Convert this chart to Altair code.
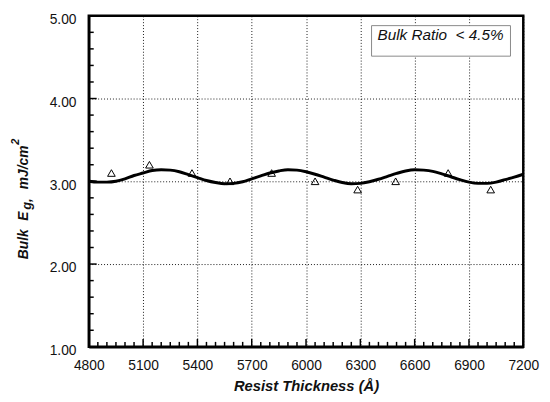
import altair as alt
import pandas as pd

# ---- data ----
curve_thickness = list(range(4800, 7201, 50))
curve_eg = [3.00, 2.99, 2.99, 3.00, 3.03, 3.07, 3.10, 3.13, 3.14, 3.135,
            3.115, 3.08, 3.045, 3.01, 2.985, 2.97, 2.975, 2.995, 3.03, 3.065,
            3.10, 3.125, 3.14, 3.135, 3.115, 3.085, 3.05, 3.015, 2.985, 2.97,
            2.975, 2.995, 3.025, 3.06, 3.095, 3.125, 3.14, 3.135, 3.12, 3.09,
            3.055, 3.02, 2.99, 2.975, 2.975, 2.99, 3.02, 3.05, 3.085]
pt_thickness = [4925, 5135, 5370, 5580, 5810, 6050, 6285, 6495, 6785, 7020]
pt_eg = [3.10, 3.20, 3.10, 3.00, 3.10, 3.00, 2.90, 3.00, 3.10, 2.90]
x_major = [4800, 5100, 5400, 5700, 6000, 6300, 6600, 6900, 7200]
y_major = [1.0, 2.0, 3.0, 4.0, 5.0]
NB = "\u00a0"
legend_label = ["Bulk Ratio" + NB + NB + "< 4.5%"]
x_title = "Resist" + NB + "Thickness" + NB + "(Å)"

assert len(curve_thickness) == len(curve_eg)

W, H = 441, 336
FONT = "Liberation Sans"

curve_df = pd.DataFrame({"t": curve_thickness, "eg": curve_eg})
pts_df = pd.DataFrame({"t": pt_thickness, "eg": pt_eg})

xs = alt.Scale(domain=[4800, 7200], nice=False, zero=False)
ys = alt.Scale(domain=[1, 5], nice=False, zero=False)

x_axis = alt.Axis(values=x_major, format="d", grid=True, gridColor="black",
                  gridDash=[1, 2], gridWidth=1, gridOpacity=0.9, ticks=False,
                  labelPadding=12, labelFontSize=14, labelFont=FONT,
                  labelColor="#111", labelFlush=False, labelOverlap=False,
                  domainColor="black", domainWidth=2.5,
                  title=x_title, titleFont=FONT, titleFontSize=15,
                  titleFontStyle="italic", titleFontWeight="bold",
                  titleColor="#111", titleY=44, titleBaseline="alphabetic")
y_axis = alt.Axis(values=y_major, format=".2f", grid=True, gridColor="black",
                  gridDash=[1, 2], gridWidth=1, gridOpacity=0.9, ticks=False,
                  labelPadding=13, labelOffset=4, labelFontSize=14,
                  labelFont=FONT, labelColor="#111", labelFlush=False,
                  labelOverlap=False, domainColor="black", domainWidth=2.5,
                  title=None)


def X(field):
    return alt.X(field, type="quantitative", scale=xs, axis=x_axis)


def Y(field):
    return alt.Y(field, type="quantitative", scale=ys, axis=y_axis)


curve = alt.Chart(curve_df).mark_line(
    color="black", strokeWidth=3, interpolate="monotone"
).encode(x=X("t"), y=Y("eg"))

points = alt.Chart(pts_df).mark_point(
    shape="triangle-up", filled=False, size=60, color="black",
    strokeWidth=1, opacity=1
).encode(x=X("t"), y=Y("eg"))

# inward ticks
xminor = pd.DataFrame({"v": [v for v in range(4850, 7200, 50) if v % 300]})
xmaj = pd.DataFrame({"v": x_major[1:-1]})
yminor = pd.DataFrame({"v": [round(1 + 0.2 * i, 1) for i in range(1, 20) if i % 5]})
ymaj = pd.DataFrame({"v": y_major[1:-1]})

xt_minor = alt.Chart(xminor).mark_rule(color="black", strokeWidth=1.5).encode(
    x=X("v"), y=alt.value(H), y2=alt.value(H - 5))
xt_major = alt.Chart(xmaj).mark_rule(color="black", strokeWidth=1.5).encode(
    x=X("v"), y=alt.value(H), y2=alt.value(H - 8))
yt_minor = alt.Chart(yminor).mark_rule(color="black", strokeWidth=1.5).encode(
    y=Y("v"), x=alt.value(0), x2=alt.value(5))
yt_major = alt.Chart(ymaj).mark_rule(color="black", strokeWidth=1.5).encode(
    y=Y("v"), x=alt.value(0), x2=alt.value(8))

# annotation box
one = pd.DataFrame({"t": legend_label})
box = alt.Chart(one).mark_rect(fill="white", stroke="#888", strokeWidth=1).encode(
    x=alt.value(287), x2=alt.value(428), y=alt.value(10), y2=alt.value(41))
box_text = alt.Chart(one).mark_text(
    font=FONT, fontSize=15.5, fontStyle="italic", color="#111",
    align="left", baseline="alphabetic"
).encode(text="t:N", x=alt.value(293), y=alt.value(25))


def ytitle(txt, x, y, size):
    d = pd.DataFrame({"t": [txt]})
    return alt.Chart(d).mark_text(
        font=FONT, fontSize=size, fontStyle="italic", fontWeight="bold",
        color="#111", angle=270, align="left", baseline="alphabetic"
    ).encode(text="t:N", x=alt.value(x), y=alt.value(y))


yt = [
    ytitle("Bulk", -62, 247, 14),
    ytitle("E", -62, 208, 14),
    ytitle("g,", -59, 197, 13),
    ytitle("mJ/cm", -62, 176, 14),
    ytitle("2", -71, 131, 11),
]

chart = alt.layer(
    xt_minor, xt_major, yt_minor, yt_major, curve, points, box, box_text, *yt
).properties(
    width=W, height=H,
    padding={"left": 82, "top": 5, "right": 19, "bottom": 45},
    autosize=alt.AutoSizeParams(type="none"),
).configure_view(stroke="black", strokeWidth=2.5)

chart.save("out.html", embed_options={"renderer": "svg", "actions": False})
